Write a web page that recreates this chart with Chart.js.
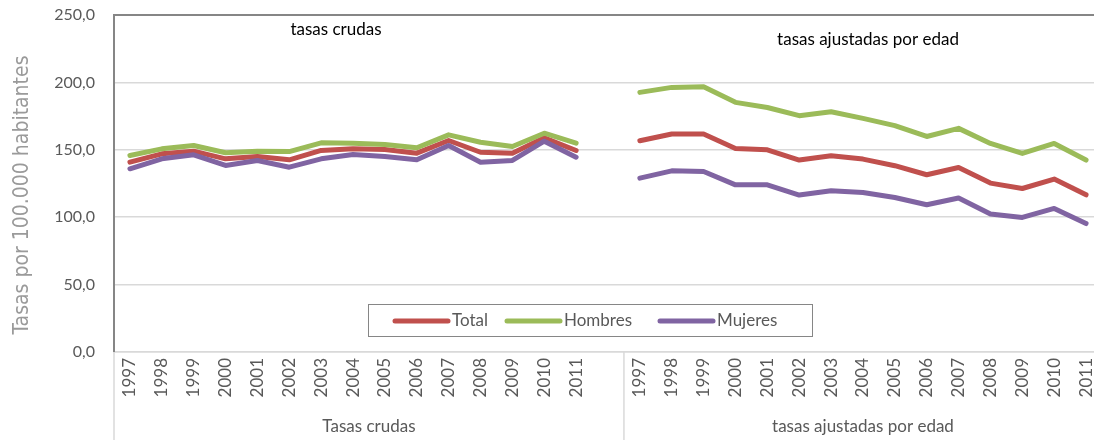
<!DOCTYPE html>
<html>
<head>
<meta charset="utf-8">
<script src="https://cdn.jsdelivr.net/npm/chart.js@4"></script>
<style>
  html, body { margin: 0; padding: 0; background: #fff; overflow: hidden; }
  #wrap { width: 1094px; height: 443px; overflow: hidden; }
</style>
</head>
<body>
<div id="wrap"><canvas id="chartId" width="1102" height="443"></canvas></div>
<script>
// tasas por 100.000 habitantes, crudas y ajustadas por edad

const years = ['1997', '1998', '1999', '2000', '2001', '2002', '2003', '2004',
  '2005', '2006', '2007', '2008', '2009', '2010', '2011'];
const groupNames = ['Tasas crudas', 'tasas ajustadas por edad'];
const seriesNames = ['Total', 'Hombres', 'Mujeres'];
const yTickLabels = ['0,0', '50,0', '100,0', '150,0', '200,0', '250,0'];
const yTitle = 'Tasas por 100.000 habitantes';

const crudaTotal = [140.8, 147.0, 149.0, 143.3, 145.0, 142.6, 149.5, 150.7, 150.2, 147.5, 156.9, 148.2, 147.5, 158.9, 149.5];
const crudaHombres = [145.8, 150.7, 153.2, 147.8, 149.0, 148.7, 155.2, 154.9, 153.9, 151.5, 161.1, 155.6, 152.4, 162.3, 154.9];
const crudaMujeres = [135.9, 143.3, 146.3, 138.4, 142.1, 137.1, 143.3, 146.5, 145.0, 142.6, 153.2, 140.8, 142.1, 156.4, 144.5];

const ajustTotal = [156.7, 161.7, 161.7, 151.0, 150.0, 142.4, 145.6, 143.1, 138.2, 131.5, 136.9, 125.3, 121.3, 128.3, 116.6];
const ajustHombres = [192.6, 196.3, 196.8, 185.2, 181.4, 175.3, 178.2, 173.3, 167.9, 159.9, 165.9, 154.7, 147.3, 154.7, 142.4];
const ajustMujeres = [129.0, 134.4, 133.9, 124.0, 124.0, 116.4, 119.6, 118.3, 114.6, 109.2, 114.2, 102.3, 99.8, 106.5, 95.3];

const colors = ['#C0504D', '#9BBB59', '#8064A2'];
const FONT = "Lato, 'Open Sans', sans-serif";

// one empty slot between the two groups, so the line breaks there
const labels = [...years, '', ...years];
const joinGroups = (a, b) => [...a, null, ...b];

const seriesData = [
  joinGroups(crudaTotal, ajustTotal),
  joinGroups(crudaHombres, ajustHombres),
  joinGroups(crudaMujeres, ajustMujeres)
];

// borde, separadores, rotulos de grupo, anotaciones y leyenda
const extras = {
  id: 'extras',
  afterDraw(chart) {
    const ctx = chart.ctx;
    const area = chart.chartArea;
    const x = chart.scales.x;
    const half = (x.getPixelForValue(1) - x.getPixelForValue(0)) / 2;
    const sep = x.getPixelForValue(years.length) + half;
    const right = x.getPixelForValue(labels.length - 1) + half;
    const bottom = chart.height - 3;

    ctx.save();
    // plot border (top and left)
    ctx.strokeStyle = '#868686';
    ctx.lineWidth = 2;
    ctx.beginPath();
    ctx.moveTo(area.left, area.bottom);
    ctx.lineTo(area.left, area.top);
    ctx.lineTo(chart.width, area.top);
    ctx.stroke();

    // separators below the axis
    ctx.strokeStyle = '#d9d9d9';
    ctx.lineWidth = 1.5;
    ctx.beginPath();
    [area.left, sep].forEach(px => {
      ctx.moveTo(px, area.bottom);
      ctx.lineTo(px, bottom);
    });
    ctx.stroke();

    // y axis title
    ctx.save();
    ctx.translate(23, 195);
    ctx.rotate(-Math.PI / 2);
    ctx.fillStyle = '#9a9a9a';
    ctx.font = "21px 'Liberation Sans Narrow', 'DejaVu Sans Condensed', sans-serif";
    ctx.textAlign = 'center';
    ctx.textBaseline = 'middle';
    ctx.fillText(yTitle, 0, 0);
    ctx.restore();

    // group labels
    ctx.fillStyle = '#595959';
    ctx.font = '17px ' + FONT;
    ctx.textAlign = 'center';
    ctx.textBaseline = 'middle';
    ctx.fillText(groupNames[0], (area.left + sep) / 2, 427);
    ctx.fillText(groupNames[1], (sep + right) / 2, 427);

    // annotations in the plot
    ctx.fillStyle = '#000';
    ctx.font = '17px ' + FONT;
    ctx.fillText('tasas crudas', 336, 30);
    ctx.fillText('tasas ajustadas por edad', 868, 40);

    // legend
    const lx = 368, ly = 304, lw = 444, lh = 32;
    ctx.fillStyle = '#fff';
    ctx.fillRect(lx, ly, lw, lh);
    ctx.strokeStyle = '#868686';
    ctx.lineWidth = 1;
    ctx.strokeRect(lx + 0.5, ly + 0.5, lw, lh);
    const starts = [395, 507, 660];
    ctx.font = '17px ' + FONT;
    ctx.textAlign = 'left';
    ctx.lineCap = 'round';
    seriesNames.forEach((name, i) => {
      const sx = starts[i];
      const cy = ly + lh / 2 + 1;
      ctx.strokeStyle = colors[i];
      ctx.lineWidth = 5;
      ctx.beginPath();
      ctx.moveTo(sx, cy);
      ctx.lineTo(sx + 53, cy);
      ctx.stroke();
      ctx.fillStyle = '#595959';
      ctx.fillText(name, sx + 57, cy);
    });
    ctx.restore();
  }
};

const chrt = document.getElementById('chartId').getContext('2d');
const chartId = new Chart(chrt, {
  type: 'line',
  data: {
    labels: labels,
    datasets: seriesNames.map((name, i) => ({
      label: name,
      data: seriesData[i],
      borderColor: colors[i],
      backgroundColor: colors[i],
      borderWidth: 5,
      borderCapStyle: 'round',
      borderJoinStyle: 'round',
      pointRadius: 0,
      tension: 0,
      spanGaps: false,
      order: seriesNames.length - i
    }))
  },
  options: {
    responsive: false,
    animation: false,
    layout: { padding: 0 },
    plugins: {
      legend: { display: false },
      tooltip: { enabled: false }
    },
    scales: {
      x: {
        offset: true,
        grid: { display: false, drawTicks: false },
        border: { color: '#d9d9d9', width: 1.5 },
        ticks: {
          autoSkip: false,
          minRotation: 90,
          maxRotation: 90,
          padding: 6,
          color: '#595959',
          font: { family: FONT, size: 17 }
        },
        afterFit(scale) {
          scale.height = 91;
          scale.paddingLeft = 0;
          scale.paddingRight = 0;
        }
      },
      y: {
        min: 0,
        max: 250,
        grid: { color: '#d9d9d9', lineWidth: 1.5, drawTicks: false },
        border: { display: false },
        ticks: {
          stepSize: 50,
          padding: 19,
          color: '#595959',
          font: { family: FONT, size: 16 },
          callback: (v) => yTickLabels[v / 50]
        },
        afterFit(scale) {
          scale.width = 114;
          scale.paddingTop = 15;
          scale.paddingBottom = 0;
        }
      }
    }
  },
  plugins: [extras]
});
</script>
</body>
</html>
